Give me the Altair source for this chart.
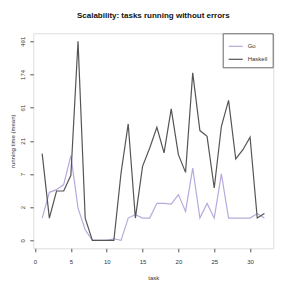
import math
import altair as alt
import pandas as pd

tasks = list(range(1, 33))
go = [1.0, 3.46, 3.85, 4.67, 13.0, 1.73, 0.39, 0, 0, 0, 0.05, 0,
      1.0, 1.23, 1.0, 1.0, 2.17, 2.17, 2.1, 3.15, 1.46, 8.5, 1.0, 2.15,
      1.0, 6.9, 1.0, 1.0, 1.0, 1.0, 1.3, 1.0]
haskell = [13.9, 1.0, 3.65, 3.65, 6.58, 491, 1.0, 0, 0, 0, 0, 7.15,
           36.5, 1.0, 9.0, 16.7, 32.8, 14.2, 58.8, 13.4, 7.3, 183, 29.5, 24.5,
           4.1, 33.9, 77, 11.6, 15.8, 23.8, 1.0, 1.3]
series = ["Go", "Haskell"]
colors = ["#b8a9dc", "#555555"]

rows = []
for name, vals in zip(series, [go, haskell]):
    for t, v in zip(tasks, vals):
        rows.append({"task": t, "time": v, "lang": name})
df = pd.DataFrame(rows)

top = math.log1p(max(haskell))
step = top / 6
ytick_vals = [math.expm1(k * step) for k in range(7)]
pad = top * 0.04
ydom = [-math.expm1(pad), math.expm1(top + pad)]
xdom = [1 - 31 * 0.04, 32 + 31 * 0.04]

font = "Liberation Sans"
chart = alt.Chart(df).mark_line(strokeWidth=1.2).encode(
    x=alt.X("task:Q", scale=alt.Scale(domain=xdom, nice=False, zero=False),
            axis=alt.Axis(title="task", values=[0, 5, 10, 15, 20, 25, 30],
                          domain=False, grid=False, tickSize=3.5, tickColor="#555",
                          labelPadding=7, labelFontSize=6, titleFontSize=6,
                          titleFontWeight="normal", titlePadding=10,
                          labelColor="#333", titleColor="#333", labelFont=font, titleFont=font)),
    y=alt.Y("time:Q", scale=alt.Scale(type="symlog", constant=1, domain=ydom, nice=False, zero=False),
            axis=alt.Axis(title="running time (mean)", values=ytick_vals,
                          labelExpr="format(round(datum.value), 'd')",
                          domain=False, grid=False, tickSize=3.5, tickColor="#555",
                          labelAngle=270, labelAlign="center", labelBaseline="bottom",
                          labelPadding=4, labelFontSize=6, titleFontSize=6,
                          titleFontWeight="normal", titleX=-21, titleY=107.5,
                          titleAngle=270, titleAlign="center", titleBaseline="middle",
                          labelColor="#333", titleColor="#333", labelFont=font, titleFont=font)),
    color=alt.Color("lang:N", scale=alt.Scale(domain=series, range=colors),
                    legend=alt.Legend(title=None, orient="none", legendX=189.4, legendY=0,
                                      symbolType="stroke", symbolSize=200, symbolStrokeWidth=1.2,
                                      labelFontSize=6, labelFont=font, labelColor="#333",
                                      strokeColor="#666", padding=5, rowPadding=2,
                                      labelOffset=4, fillColor="white",
                                      labelExpr="datum.label + '      '")),
).properties(
    width=240, height=215,
    title=alt.TitleParams("Scalability: tasks running without errors", fontSize=8,
                          font=font, fontWeight="bold", anchor="middle", offset=13, color="#111"),
    autosize=alt.AutoSizeParams(type="none"),
    padding={"left": 25.3, "top": 25.3, "right": 9, "bottom": 34},
).configure_view(stroke="#555", strokeWidth=1).configure(background="white")

chart.save("out.html", embed_options={"renderer": "svg", "actions": False})
